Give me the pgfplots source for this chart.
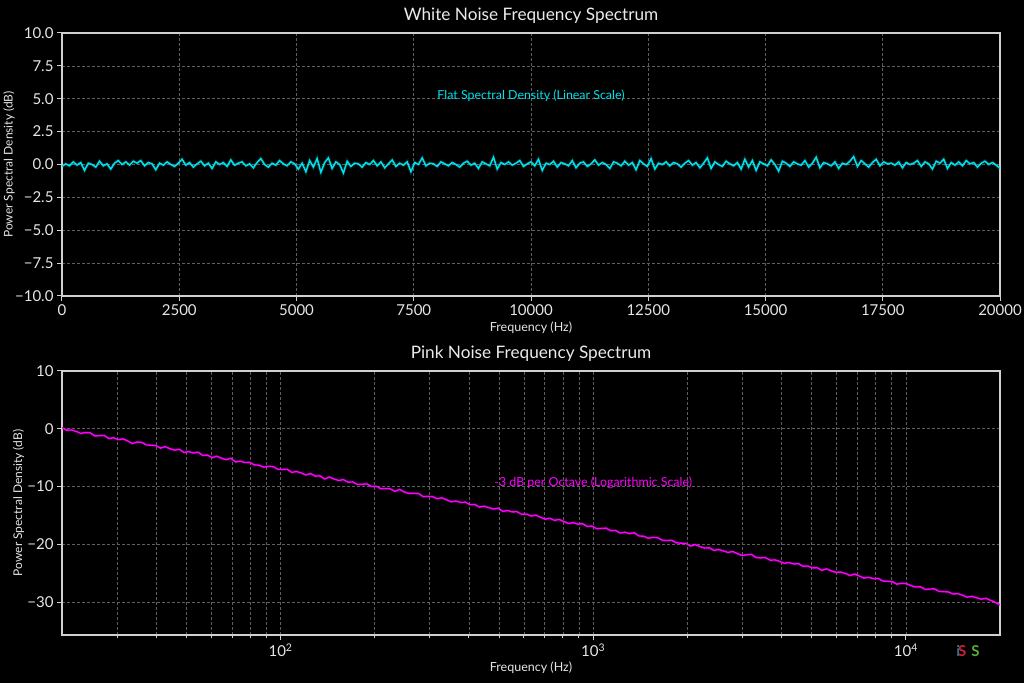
\documentclass[border=0pt]{standalone}
\usepackage{fontspec}
\setmainfont{Lato}
\usepackage{pgfplots}
\usepackage{pgfplotstable}
\pgfplotsset{compat=1.18}
\definecolor{cyanline}{HTML}{00E1EE}
\definecolor{magline}{HTML}{FF00FF}
\definecolor{spine}{HTML}{D0D0D0}
\definecolor{labelc}{HTML}{E6E6E6}
\definecolor{gridc}{HTML}{5E5E5E}

\pgfplotstableread[row sep=\\]{
y\\
-0.15\\0.05\\-0.10\\0.20\\-0.05\\0.15\\-0.45\\0.10\\0.00\\-0.20\\
0.25\\-0.10\\0.05\\-0.35\\0.10\\0.30\\0.00\\0.20\\-0.05\\0.25\\
0.10\\0.30\\-0.10\\0.15\\0.05\\-0.40\\0.10\\-0.05\\0.20\\0.00\\
-0.15\\0.10\\0.40\\-0.05\\0.15\\-0.20\\0.05\\0.25\\-0.10\\0.10\\
-0.30\\0.20\\0.00\\0.15\\-0.15\\0.35\\-0.05\\0.10\\0.20\\-0.10\\
0.05\\-0.25\\0.15\\0.45\\0.00\\-0.20\\0.10\\-0.05\\0.30\\0.05\\
-0.10\\0.20\\0.05\\-0.35\\0.10\\-0.55\\0.30\\-0.20\\0.45\\-0.60\\
0.15\\0.50\\-0.30\\0.20\\0.00\\-0.65\\0.25\\-0.15\\0.10\\0.05\\
-0.20\\0.15\\0.00\\0.30\\-0.10\\0.20\\-0.25\\0.05\\0.35\\-0.15\\
0.10\\-0.05\\0.20\\-0.55\\0.15\\0.00\\0.50\\-0.10\\0.10\\0.05\\
-0.15\\0.20\\0.05\\-0.10\\0.15\\0.00\\-0.20\\0.10\\0.25\\-0.05\\
0.10\\-0.30\\0.20\\0.05\\-0.10\\0.55\\-0.35\\0.15\\0.00\\0.20\\
-0.05\\0.10\\0.30\\-0.15\\0.05\\0.20\\-0.10\\0.40\\-0.45\\0.10\\
0.00\\0.25\\-0.20\\0.15\\0.05\\-0.10\\0.30\\-0.25\\0.10\\0.20\\
-0.15\\0.05\\0.35\\-0.05\\0.15\\0.00\\-0.30\\0.20\\0.10\\-0.10\\
0.25\\-0.05\\0.15\\-0.40\\0.30\\0.05\\-0.15\\0.45\\-0.35\\0.10\\
0.00\\0.20\\-0.10\\0.15\\0.05\\-0.20\\0.10\\0.30\\-0.05\\0.15\\
-0.25\\0.10\\0.50\\-0.30\\0.20\\0.00\\-0.15\\0.25\\0.05\\-0.10\\
0.15\\-0.35\\0.40\\-0.20\\0.30\\-0.45\\0.20\\0.05\\-0.10\\0.35\\
0.00\\-0.50\\0.25\\0.10\\-0.15\\0.20\\0.05\\-0.05\\0.30\\-0.20\\
0.10\\0.55\\-0.25\\0.15\\0.05\\-0.10\\0.20\\-0.30\\0.10\\0.00\\
0.25\\0.60\\-0.15\\0.30\\0.05\\-0.20\\0.15\\0.40\\-0.10\\0.20\\
0.05\\0.10\\-0.05\\0.20\\-0.25\\0.15\\0.00\\0.10\\0.30\\-0.15\\
0.20\\0.05\\-0.35\\0.25\\0.10\\0.40\\-0.30\\0.15\\-0.05\\0.20\\
-0.10\\0.30\\0.05\\0.15\\-0.20\\0.10\\0.25\\0.00\\0.15\\-0.05\\
-0.30\\
}\whitedata

\pgfplotstableread[row sep=\\]{
y\\
0.20\\-0.25\\-0.20\\-0.45\\-0.80\\-0.65\\-0.70\\-1.25\\-1.20\\-1.15\\
-1.70\\-1.55\\-1.90\\-1.75\\-2.10\\-2.55\\-2.30\\-2.35\\-2.80\\-2.85\\
-2.90\\-3.35\\-3.10\\-3.45\\-3.70\\-3.55\\-4.10\\-3.95\\-4.20\\-4.05\\
-4.60\\-4.55\\-5.00\\-4.75\\-5.10\\-5.35\\-5.10\\-5.75\\-5.60\\-5.85\\
-5.80\\-6.25\\-6.30\\-6.65\\-6.50\\-6.55\\-7.00\\-7.05\\-7.00\\-7.55\\
-7.40\\-7.65\\-8.00\\-7.75\\-8.20\\-8.15\\-8.70\\-8.35\\-8.70\\-8.95\\
-8.80\\-9.25\\-9.20\\-9.65\\-9.60\\-9.55\\-10.00\\-9.95\\-10.40\\-10.35\\
-10.40\\-10.85\\-10.50\\-10.95\\-11.20\\-11.15\\-11.20\\-11.75\\-11.70\\-11.75\\
-12.10\\-11.95\\-12.30\\-12.65\\-12.50\\-12.75\\-12.70\\-13.15\\-13.10\\-13.55\\
-13.40\\-13.65\\-13.90\\-13.75\\-14.30\\-14.15\\-14.40\\-14.35\\-14.80\\-14.75\\
-15.10\\-14.95\\-15.30\\-15.65\\-15.50\\-15.85\\-15.70\\-16.05\\-16.40\\-16.25\\
-16.50\\-16.45\\-16.90\\-16.85\\-17.30\\-17.25\\-17.20\\-17.65\\-17.60\\-18.05\\
-17.90\\-18.15\\-18.00\\-18.55\\-18.60\\-18.95\\-18.80\\-18.85\\-19.30\\-19.35\\
-19.30\\-19.75\\-19.80\\-19.85\\-20.30\\-20.05\\-20.40\\-20.65\\-20.60\\-21.05\\
-20.90\\-21.15\\-21.40\\-21.25\\-21.60\\-21.95\\-21.80\\-21.75\\-22.30\\-22.35\\
-22.30\\-22.75\\-22.70\\-22.95\\-23.30\\-23.15\\-23.40\\-23.35\\-23.80\\-23.75\\
-24.10\\-24.05\\-24.50\\-24.25\\-24.60\\-24.85\\-24.80\\-25.05\\-25.40\\-25.15\\
-25.50\\-25.85\\-25.70\\-25.95\\-25.90\\-26.35\\-26.40\\-26.45\\-26.90\\-26.75\\
-26.80\\-27.15\\-27.40\\-27.35\\-27.80\\-27.75\\-27.70\\-28.15\\-28.20\\-28.25\\
-28.60\\-28.55\\-28.80\\-29.15\\-29.00\\-29.25\\-29.50\\-29.35\\-29.70\\-30.05\\
-30.50\\
}\pinkdata

\pgfplotsset{
  common/.style={
    scale only axis, anchor=south west, width=938pt,
    axis line style={draw=spine, line width=1.2pt},
    tick pos=left, tick align=outside,
    major tick length=5pt, minor tick length=2.5pt,
    tick style={draw=spine, line width=1pt},
    every tick label/.append style={font=\fontsize{15}{15}\selectfont, text=labelc},
    label style={font=\fontsize{12.5}{13}\selectfont, text=labelc},
    ylabel style={font=\fontsize{12}{12}\selectfont, anchor=center},
    title style={font=\fontsize{17.2}{18}\selectfont, text=white!92!black,
      at={(axis description cs:0.5,1)}, anchor=base, yshift=6pt, inner sep=0pt},
    xlabel style={at={(axis description cs:0.5,0)}, anchor=base, yshift=-36pt, inner sep=0pt},
    grid style={draw=gridc, line width=0.6pt, dash pattern=on 3pt off 2pt},
  }
}

\begin{document}
\begin{tikzpicture}[x=1pt,y=1pt]
\fill[black] (0,0) rectangle (1024,683);

\begin{axis}[common, at={(62pt,387pt)}, height=263pt,
  title={White Noise Frequency Spectrum},
  xlabel={Frequency (Hz)}, ylabel={Power Spectral Density (dB)},
  ylabel style={at={(axis description cs:-0.0565,0.5)}},
  xmin=0, xmax=20000, ymin=-10, ymax=10, scaled x ticks=false,
  xtick={0,2500,5000,7500,10000,12500,15000,17500,20000},
  xticklabels={0,2500,5000,7500,10000,12500,15000,17500,20000},
  ytick={-10,-7.5,-5,-2.5,0,2.5,5,7.5,10},
  yticklabels={−10.0,−7.5,−5.0,−2.5,0.0,2.5,5.0,7.5,10.0},
  grid=major,
]
\addplot[cyanline, line width=3.5pt, opacity=0.15] table[x expr=\coordindex*80, y=y] {\whitedata};
\addplot[cyanline, line width=1.5pt] table[x expr=\coordindex*80, y=y] {\whitedata};
\node[text=cyanline, font=\fontsize{12.4}{13}\selectfont] at (axis cs:10000,5.25) {Flat Spectral Density (Linear Scale)};
\end{axis}

\begin{axis}[common, at={(62pt,48pt)}, height=264pt,
  title={Pink Noise Frequency Spectrum},
  xlabel={Frequency (Hz)}, ylabel={Power Spectral Density (dB)},
  ylabel style={at={(axis description cs:-0.0465,0.5)}},
  xmode=log, log basis x=10,
  xmin=20, xmax=20000, ymin=-35.7, ymax=10,
  xtick={100,1000,10000},
  xticklabels={10\textsuperscript{2},10\textsuperscript{3},10\textsuperscript{4}},
  minor xtick={30,40,50,60,70,80,90,200,300,400,500,600,700,800,900,2000,3000,4000,5000,6000,7000,8000,9000},
  ytick={-30,-20,-10,0,10},
  yticklabels={−30,−20,−10,0,10},
  grid=both, minor grid style={draw=gridc, line width=0.6pt, dash pattern=on 3pt off 2pt},
]
\addplot[magline, line width=3.5pt, opacity=0.12] table[x expr={20*10^(0.015*\coordindex)}, y=y] {\pinkdata};
\addplot[magline, line width=1.4pt] table[x expr={20*10^(0.015*\coordindex)}, y=y] {\pinkdata};
\node[text=magline, font=\fontsize{12.4}{13}\selectfont] at (axis cs:1000,-9.3) {-3 dB per Octave (Logarithmic Scale)};
\end{axis}

\node[font=\bfseries\fontsize{15}{15}\selectfont, anchor=base] at (968,27) {\textcolor[HTML]{1E7F8A}{i}\kern-2pt\textcolor[HTML]{D01E3A}{S}\hspace{5pt}\textcolor[HTML]{5AAE32}{S}};
\pgfresetboundingbox
\useasboundingbox (0,0) rectangle (1024,683);
\end{tikzpicture}
\end{document}
